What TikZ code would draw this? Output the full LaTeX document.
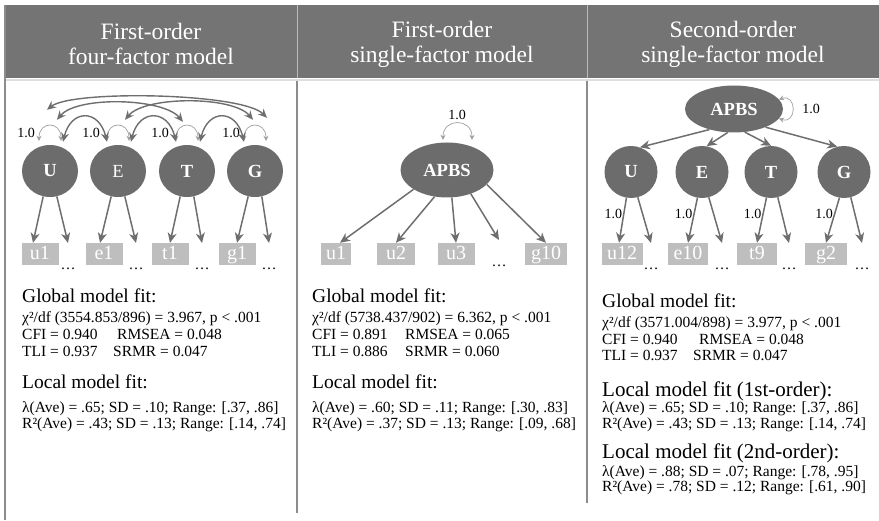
\documentclass[tikz,border=0pt]{standalone}
\usepackage{fontspec}
\setmainfont{Liberation Serif}
\usetikzlibrary{shapes.geometric,arrows.meta}
\definecolor{hdgray}{RGB}{116,116,116}
\definecolor{latgray}{RGB}{108,108,108}
\definecolor{boxgray}{RGB}{190,190,190}
\definecolor{arrgray}{RGB}{110,110,110}
\definecolor{lngray}{RGB}{140,140,140}
\definecolor{vargray}{RGB}{160,160,160}
\tikzset{
 lat/.style={ellipse,fill=latgray,text=white,inner sep=0pt,minimum width=56pt,minimum height=52pt,font=\fontsize{18.5}{20}\selectfont\bfseries},
 obs/.style={rectangle,fill=boxgray,text=white,inner sep=0pt,minimum height=22pt,text height=15pt,text depth=3pt,font=\fontsize{20}{22}\selectfont},
 ell/.style={anchor=north,inner sep=0pt,text height=26pt,text depth=0pt,font=\fontsize{15}{17}\selectfont},
 load/.style={draw=arrgray,line width=1.5pt,-{Stealth[length=10pt,width=9pt,inset=3pt]}},
 cov/.style={draw=arrgray,line width=1.4pt,{Stealth[length=9pt,width=8pt,inset=3pt]}-{Stealth[length=9pt,width=8pt,inset=3pt]}},
 var/.style={draw=vargray,line width=0.7pt,{Stealth[length=5pt,width=5pt]}-{Stealth[length=5pt,width=5pt]}},
 one/.style={inner sep=0pt,font=\fontsize{14}{16}\selectfont},
 head/.style={text=white,align=center,font=\fontsize{23.5}{25}\selectfont},
 big/.style={anchor=base west,inner sep=0pt,font=\fontsize{19.5}{22}\selectfont},
 stat/.style={anchor=base west,inner sep=0pt,font=\fontsize{15.5}{17}\selectfont},
}
\begin{document}
\begin{tikzpicture}[x=1pt,y=1pt]
 \useasboundingbox (0,0) rectangle (879,-521);
 \fill[hdgray] (5,-5) rectangle (879,-78);
 \draw[lngray!60,line width=1pt] (297,-5) -- (297,-78) (587,-5) -- (587,-78);
 \draw[gray!25,line width=2pt] (5,-80) -- (879,-80);
 \draw[lngray,line width=1.5pt] (5,-5) -- (5,-520);
 \draw[lngray,line width=1.5pt] (297,-81) -- (297,-513);
 \draw[lngray,line width=1.5pt] (587,-81) -- (587,-503);
 \node[head] (h1) at (151,-44) {First-order\\four-factor model};
 \node[head] (h2) at (442,-44) {First-order\\single-factor model};
 \node[head] (h3) at (733,-44) {Second-order\\single-factor model};

 \node[lat] (aU) at (50,-171) {U};
 \node[lat] (aE) at (118,-171) {\mdseries E};
 \node[lat] (aT) at (187,-171) {T};
 \node[lat] (aG) at (255,-171) {G};
 \node[obs,minimum width=37pt] (au1) at (40,-254) {u1};
 \node[obs,minimum width=37pt] (ae1) at (104,-254) {e1};
 \node[obs,minimum width=37pt] (at1) at (170,-254) {t1};
 \node[obs,minimum width=37pt] (ag1) at (237,-254) {g1};
 \node[ell] (ad1) at (68,-243) {\dots};
 \node[ell] (ad2) at (136,-243) {\dots};
 \node[ell] (ad3) at (202,-243) {\dots};
 \node[ell] (ad4) at (269,-243) {\dots};
 \draw[load] (aU.-105) -- ([xshift=-7pt]au1.north);
 \draw[load] (aU.-75) -- (ad1.north);
 \draw[load] (aE.-105) -- ([xshift=-4pt]ae1.north);
 \draw[load] (aE.-75) -- (ad2.north);
 \draw[load] (aT.-105) -- (at1.north);
 \draw[load] (aT.-75) -- (ad3.north);
 \draw[load] (aG.-105) -- (ag1.north);
 \draw[load] (aG.-75) -- (ad4.north);
 \draw[var] ([shift={(-11,4)}]aU.north) .. controls +(0,20) and +(0,20) .. ([shift={(11,4)}]aU.north);
 \draw[var] ([shift={(-11,4)}]aE.north) .. controls +(0,20) and +(0,20) .. ([shift={(11,4)}]aE.north);
 \draw[var] ([shift={(-11,4)}]aT.north) .. controls +(0,20) and +(0,20) .. ([shift={(11,4)}]aT.north);
 \draw[var] ([shift={(-11,4)}]aG.north) .. controls +(0,20) and +(0,20) .. ([shift={(11,4)}]aG.north);
 \node[one] (aUv) at ([shift={(-24,12)}]aU.north) {1.0};
 \node[one] (aEv) at ([shift={(-27,12)}]aE.north) {1.0};
 \node[one] (aTv) at ([shift={(-27,12)}]aT.north) {1.0};
 \node[one] (aGv) at ([shift={(-24,12)}]aG.north) {1.0};
 \draw[cov] ([shift={(13,3)}]aU.north) .. controls +(8,33) and +(-8,33) .. ([shift={(-11,3)}]aE.north);
 \draw[cov] ([shift={(13,3)}]aE.north) .. controls +(8,33) and +(-8,33) .. ([shift={(-11,3)}]aT.north);
 \draw[cov] ([shift={(13,3)}]aT.north) .. controls +(8,33) and +(-8,33) .. ([shift={(-11,3)}]aG.north);
 \draw[cov] ([shift={(7,25)}]aU.north) .. controls +(20,24) and +(-20,24) .. ([shift={(-4,23)}]aT.north);
 \draw[cov] ([shift={(7,25)}]aE.north) .. controls +(20,24) and +(-20,24) .. ([shift={(-2,25)}]aG.north);
 \draw[cov] ([shift={(-3,35)}]aU.north) .. controls +(25,20) and +(-25,25) .. ([shift={(12,27)}]aG.north);
 \node[big] (afit) at (22,-303) {Global model fit:};
 \node[stat] (achi) at (22,-323) {χ²/df (3554.853/896) = 3.967, p < .001};
 \node[stat] (acfi) at (22,-340) {\makebox[95pt][l]{CFI = 0.940}RMSEA = 0.048};
 \node[stat] (atli) at (22,-357) {\makebox[91pt][l]{TLI = 0.937}SRMR = 0.047};
 \node[big] (aloc) at (22,-389) {Local model fit:};
 \node[stat] (alam) at (22,-413) {λ(Ave) = .65; SD = .10; Range: [.37, .86]};
 \node[stat] (arsq) at (22,-429) {R²(Ave) = .43; SD = .13; Range: [.14, .74]};

 \node[lat,minimum width=93pt,minimum height=55pt] (bF) at (447,-170) {APBS};
 \draw[var] ([shift={(-4,2.5)}]bF.north) .. controls +(0,22) and +(0,22) .. ([shift={(25,2.5)}]bF.north);
 \node[one] (bFv) at ([shift={(10,27)}]bF.north) {1.0};
 \node[obs,minimum width=30pt] (bu1) at (336,-254) {u1};
 \node[obs,minimum width=38pt] (bu2) at (396,-254) {u2};
 \node[obs,minimum width=37pt] (bu3) at (456,-254) {u3};
 \node[ell] (bd1) at (499,-240) {\dots};
 \node[obs,minimum width=42pt] (bg10) at (546,-254) {g10};
 \draw[load] (bF.-150) -- ([xshift=4pt]bu1.north);
 \draw[load] (bF.-115) -- (bu2.north);
 \draw[load] (bF.-80) -- (bu3.north);
 \draw[load] (bF.-45) -- (bd1.north);
 \draw[load] (bF.-20) -- (bg10.north);
 \node[big] (bfit) at (312,-303) {Global model fit:};
 \node[stat] (bchi) at (312,-323) {χ²/df (5738.437/902) = 6.362, p < .001};
 \node[stat] (bcfi) at (312,-340) {\makebox[93pt][l]{CFI = 0.891}RMSEA = 0.065};
 \node[stat] (btli) at (312,-357) {\makebox[93pt][l]{TLI = 0.886}SRMR = 0.060};
 \node[big] (bloc) at (312,-389) {Local model fit:};
 \node[stat] (blam) at (312,-413) {λ(Ave) = .60; SD = .11; Range: [.30, .83]};
 \node[stat] (brsq) at (312,-429) {R²(Ave) = .37; SD = .13; Range: [.09, .68]};

 \node[lat,minimum width=98pt,minimum height=47pt] (cF) at (734,-109) {APBS};
 \draw[var] (cF.12) .. controls +(18,6) and +(18,-6) .. (cF.-12);
 \node[one] (cFv) at ([xshift=28pt]cF.east) {1.0};
 \node[lat,minimum width=53pt] (cU) at (631,-172) {U};
 \node[lat,minimum width=53pt] (cE) at (702,-172) {E};
 \node[lat,minimum width=53pt] (cT) at (771,-172) {T};
 \node[lat,minimum width=53pt] (cG) at (844,-172) {G};
 \draw[load] (cF.-140) -- (cU.70);
 \draw[load] (cF.-105) -- (cE.80);
 \draw[load] (cF.-65) -- (cT.north);
 \draw[load] (cF.-30) -- (cG.105);
 \node[obs,minimum width=41pt] (cu12) at (622,-254) {u12};
 \node[obs,minimum width=40pt] (ce10) at (688,-254) {e10};
 \node[obs,minimum width=40pt] (ct9) at (757,-254) {t9};
 \node[obs,minimum width=42pt] (cg2) at (826,-254) {g2};
 \node[ell] (cd1) at (651,-243) {\dots};
 \node[ell] (cd2) at (722,-243) {\dots};
 \node[ell] (cd3) at (789,-243) {\dots};
 \node[ell] (cd4) at (862,-243) {\dots};
 \draw[load] (cU.-100) -- node[one,pos=0.35,left=1pt] {1.0} ([xshift=-3pt]cu12.north);
 \draw[load] (cU.-75) -- (cd1.north);
 \draw[load] (cE.-100) -- node[one,pos=0.35,left=1pt] {1.0} (ce10.north);
 \draw[load] (cE.-75) -- (cd2.north);
 \draw[load] (cT.-100) -- node[one,pos=0.35,left=1pt] {1.0} (ct9.north);
 \draw[load] (cT.-75) -- (cd3.north);
 \draw[load] (cG.-100) -- node[one,pos=0.35,left=1pt] {1.0} (cg2.north);
 \draw[load] (cG.-75) -- (cd4.north);
 \node[big] (cfit) at (602,-308) {Global model fit:};
 \node[stat] (cchi) at (602,-328) {χ²/df (3571.004/898) = 3.977, p < .001};
 \node[stat] (ccfi) at (602,-345) {\makebox[97pt][l]{CFI = 0.940}RMSEA = 0.048};
 \node[stat] (ctli) at (602,-361) {\makebox[91pt][l]{TLI = 0.937}SRMR = 0.047};
 \node[big,font=\fontsize{21}{22}\selectfont] (cloc) at (602,-397) {Local model fit (1st-order):};
 \node[stat] (clam) at (602,-413) {λ(Ave) = .65; SD = .10; Range: [.37, .86]};
 \node[stat] (crsq) at (602,-429) {R²(Ave) = .43; SD = .13; Range: [.14, .74]};
 \node[big,font=\fontsize{21}{22}\selectfont] (cloc2) at (602,-458) {Local model fit (2nd-order):};
 \node[stat] (clam2) at (602,-477) {λ(Ave) = .88; SD = .07; Range: [.78, .95]};
 \node[stat] (crsq2) at (602,-492) {R²(Ave) = .78; SD = .12; Range: [.61, .90]};
\end{tikzpicture}
\end{document}
